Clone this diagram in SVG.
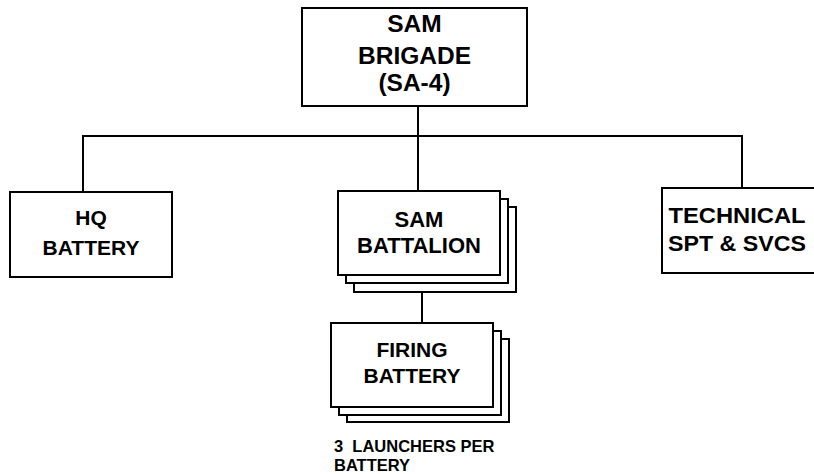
<svg xmlns="http://www.w3.org/2000/svg" width="814" height="474" viewBox="0 0 814 474">
<style>
.box{fill:#fff;stroke:#000;stroke-width:2}
.ln{fill:none;stroke:#000;stroke-width:2}
text{font-family:"Liberation Sans",Arial,sans-serif;font-weight:bold;fill:#000;text-anchor:middle}
.note{text-anchor:start;font-size:16.5px;white-space:pre}
</style>
<rect width="814" height="474" fill="#fff"/>
<g id="connectors">
<path class="ln" d="M418,106 V191"/>
<path class="ln" d="M83,192 V136 H742 V188"/>
<path class="ln" d="M422,292 V323"/>
</g>
<g id="sam-brigade">
<rect class="box" x="302" y="8" width="225" height="98"/>
<text x="414.5" y="32" font-size="24.5">SAM</text>
<text x="414.5" y="64" font-size="24.5">BRIGADE</text>
<text x="414.5" y="91" font-size="24.5">(SA-4)</text>
</g>
<g id="hq-battery">
<rect class="box" x="10" y="192" width="162" height="85"/>
<text x="91" y="225" font-size="21">HQ</text>
<text x="91" y="255" font-size="21">BATTERY</text>
</g>
<g id="sam-battalion">
<rect class="box" x="354" y="207" width="162" height="85"/>
<rect class="box" x="346" y="199" width="162" height="84"/>
<rect class="box" x="338" y="191" width="162" height="84"/>
<text x="419" y="227" font-size="22">SAM</text>
<text x="419" y="253" font-size="22">BATTALION</text>
</g>
<g id="technical-spt">
<rect class="box" x="662" y="188" width="170" height="85"/>
<text x="737" y="223" font-size="22" textLength="137" lengthAdjust="spacingAndGlyphs">TECHNICAL</text>
<text x="737" y="251" font-size="22" textLength="138" lengthAdjust="spacingAndGlyphs">SPT &amp; SVCS</text>
</g>
<g id="firing-battery">
<rect class="box" x="347" y="339" width="162" height="83"/>
<rect class="box" x="339" y="331" width="162" height="84"/>
<rect class="box" x="331" y="323" width="162" height="84"/>
<text x="412" y="357" font-size="21">FIRING</text>
<text x="412" y="383" font-size="21">BATTERY</text>
</g>
<g id="note">
<text class="note" x="334" y="452">3  LAUNCHERS PER</text>
<text class="note" x="334" y="471">BATTERY</text>
</g>
</svg>
